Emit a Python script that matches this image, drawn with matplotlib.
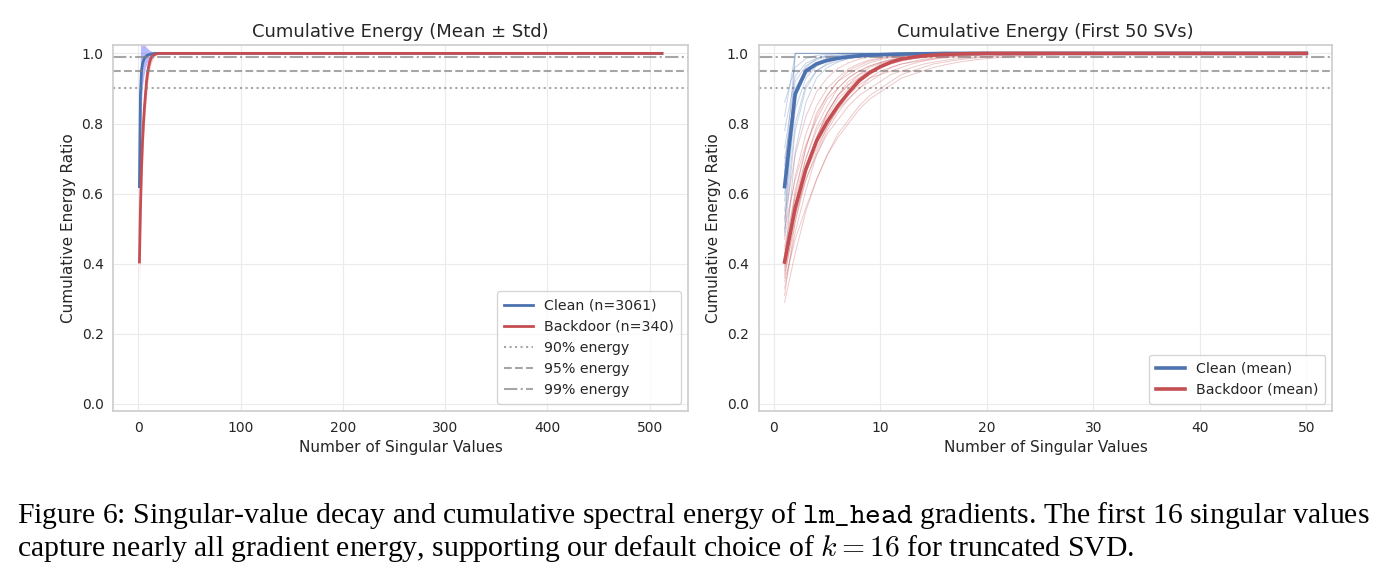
import matplotlib
matplotlib.use("Agg")
import matplotlib.pyplot as plt
import numpy as np

plt.rcParams['font.family'] = ['DejaVu Sans']
plt.rcParams['mathtext.fontset'] = 'cm'

clean_color = '#4C72B0'
back_color = '#C44E52'

# mean cumulative energy for the first singular values (the rest sit at 1.0)
clean_mean = [0.62, 0.885, 0.95, 0.97, 0.98, 0.986, 0.99, 0.993, 0.995, 0.996,
              0.997, 0.998, 0.9985, 0.999, 0.9993, 1.0]
back_mean = [0.405, 0.56, 0.67, 0.75, 0.805, 0.85, 0.888, 0.922, 0.945, 0.962,
             0.975, 0.984, 0.989, 0.993, 0.995, 0.997, 0.998, 0.999, 0.9995, 1.0]
clean_std = [0.15, 0.13, 0.09, 0.065, 0.05, 0.04, 0.03, 0.024, 0.019, 0.015,
             0.012, 0.009, 0.007, 0.005, 0.004, 0.002, 0.0]
back_std = [0.065, 0.08, 0.075, 0.068, 0.06, 0.052, 0.045, 0.038, 0.032, 0.026,
            0.021, 0.017, 0.013, 0.01, 0.008, 0.006, 0.004, 0.003, 0.002, 0.001, 0.0]

n_total = 512
n_first = 50
n_clean = 3061
n_back = 340

# a few individual samples (first 50 SVs)
clean_samples = [
    [0.49, 1.0],
    [0.66, 1.0],
    [0.82, 1.0],
    [0.40, 0.72, 0.86, 0.93, 0.96, 0.975, 0.985, 0.99, 0.994, 0.997, 0.999, 1.0],
    [0.48, 0.78, 0.90, 0.95, 0.972, 0.983, 0.99, 0.994, 0.997, 0.999, 1.0],
    [0.55, 0.84, 0.93, 0.963, 0.978, 0.987, 0.992, 0.995, 0.997, 0.999, 1.0],
    [0.60, 0.87, 0.945, 0.97, 0.982, 0.99, 0.994, 0.997, 0.999, 1.0],
    [0.68, 0.90, 0.955, 0.975, 0.986, 0.992, 0.995, 0.997, 0.999, 1.0],
    [0.73, 0.92, 0.965, 0.982, 0.99, 0.994, 0.997, 0.999, 1.0],
    [0.78, 0.935, 0.972, 0.986, 0.992, 0.996, 0.998, 1.0],
    [0.52, 0.80, 0.91, 0.95, 0.968, 0.978, 0.985, 0.99, 0.993, 0.996, 0.998, 0.999, 1.0],
    [0.70, 0.88, 0.94, 0.965, 0.978, 0.986, 0.991, 0.995, 0.997, 0.999, 1.0],
    [0.86, 0.96, 0.985, 0.994, 0.998, 1.0],
    [0.58, 0.89, 0.96, 0.985, 0.995, 1.0],
]
back_samples = [
    [0.29, 0.43, 0.55, 0.64, 0.71, 0.77, 0.81, 0.85, 0.88, 0.90, 0.92, 0.94, 0.95, 0.96,
     0.97, 0.975, 0.98, 0.984, 0.987, 0.99, 0.992, 0.994, 0.995, 0.996, 0.997, 0.998, 0.999, 1.0],
    [0.33, 0.49, 0.61, 0.71, 0.78, 0.83, 0.87, 0.90, 0.93, 0.94, 0.96, 0.97, 0.975, 0.98,
     0.985, 0.989, 0.992, 0.994, 0.995, 0.997, 0.998, 0.999, 1.0],
    [0.36, 0.54, 0.67, 0.76, 0.83, 0.88, 0.91, 0.94, 0.95, 0.97, 0.976, 0.983, 0.988, 0.991,
     0.994, 0.996, 0.997, 0.998, 0.999, 1.0],
    [0.38, 0.57, 0.70, 0.79, 0.85, 0.90, 0.93, 0.95, 0.964, 0.975, 0.983, 0.988, 0.991, 0.994,
     0.996, 0.997, 0.998, 0.999, 1.0],
    [0.40, 0.56, 0.67, 0.76, 0.82, 0.87, 0.90, 0.93, 0.95, 0.96, 0.97, 0.978, 0.984, 0.988,
     0.991, 0.993, 0.995, 0.997, 0.998, 0.999, 1.0],
    [0.42, 0.61, 0.73, 0.82, 0.88, 0.92, 0.94, 0.96, 0.973, 0.982, 0.988, 0.992, 0.994, 0.996,
     0.997, 0.998, 0.999, 1.0],
    [0.44, 0.56, 0.66, 0.73, 0.79, 0.84, 0.87, 0.90, 0.92, 0.94, 0.95, 0.96, 0.97, 0.978,
     0.983, 0.987, 0.99, 0.992, 0.994, 0.996, 0.997, 0.998, 0.999, 1.0],
    [0.47, 0.65, 0.77, 0.85, 0.90, 0.93, 0.956, 0.971, 0.981, 0.987, 0.992, 0.995, 0.997, 0.998,
     0.999, 1.0],
    [0.50, 0.64, 0.74, 0.81, 0.87, 0.90, 0.93, 0.95, 0.964, 0.974, 0.981, 0.987, 0.99, 0.993,
     0.995, 0.997, 0.998, 0.999, 1.0],
    [0.53, 0.71, 0.82, 0.89, 0.93, 0.957, 0.973, 0.984, 0.99, 0.993, 0.996, 0.998, 0.999, 1.0],
    [0.35, 0.47, 0.56, 0.64, 0.71, 0.76, 0.80, 0.84, 0.87, 0.89, 0.91, 0.93, 0.94, 0.95,
     0.96, 0.967, 0.973, 0.978, 0.982, 0.985, 0.988, 0.99, 0.992, 0.994, 0.995, 0.996, 0.997,
     0.998, 0.999, 1.0],
    [0.31, 0.52, 0.66, 0.76, 0.83, 0.88, 0.92, 0.94, 0.96, 0.972, 0.981, 0.986, 0.99, 0.993,
     0.995, 0.997, 0.998, 0.999, 1.0],
    [0.45, 0.59, 0.70, 0.78, 0.83, 0.88, 0.91, 0.93, 0.95, 0.964, 0.973, 0.98, 0.985, 0.989,
     0.992, 0.994, 0.996, 0.997, 0.998, 0.999, 1.0],
    [0.39, 0.60, 0.73, 0.83, 0.88, 0.92, 0.95, 0.966, 0.978, 0.985, 0.99, 0.994, 0.996, 0.997,
     0.998, 0.999, 1.0],
    [0.43, 0.54, 0.64, 0.71, 0.77, 0.81, 0.85, 0.88, 0.90, 0.92, 0.94, 0.95, 0.96, 0.969,
     0.975, 0.98, 0.984, 0.987, 0.99, 0.992, 0.994, 0.995, 0.996, 0.997, 0.998, 0.999, 1.0],
    [0.37, 0.52, 0.64, 0.72, 0.79, 0.84, 0.88, 0.91, 0.93, 0.95, 0.96, 0.97, 0.977, 0.983,
     0.987, 0.99, 0.993, 0.995, 0.996, 0.997, 0.998, 0.999, 1.0],
]

thresholds = [0.90, 0.95, 0.99]
thr_labels = ['90% energy', '95% energy', '99% energy']
thr_styles = [':', '--', '-.']


def pad(values, n, fill=1.0):
    # curves stay flat once they reach full energy
    return np.array(list(values) + [fill] * (n - len(values)))


def style_axes(ax):
    ax.set_facecolor('white')
    for s in ax.spines.values():
        s.set_color('#cccccc')
        s.set_linewidth(1.2)
    ax.grid(True, color='#ebebeb', linewidth=0.8)
    ax.set_axisbelow(True)
    ax.tick_params(length=0, labelsize=10, colors='#262626', pad=7)


fig = plt.figure(figsize=(13.92, 5.81), dpi=100)
ax1 = fig.add_axes([0.0814, 0.2926, 0.4129, 0.630])
ax2 = fig.add_axes([0.5449, 0.2926, 0.4123, 0.630])

# ---- left: mean +/- std over all singular values
k_all = np.arange(1, n_total + 1)
cm_all = pad(clean_mean, n_total)
bm_all = pad(back_mean, n_total)
cs_all = pad(clean_std, n_total, 0.0)
bs_all = pad(back_std, n_total, 0.0)

ax1.plot(k_all, cm_all, color=clean_color, lw=2, label=f'Clean (n={n_clean})')
ax1.fill_between(k_all, cm_all - cs_all, cm_all + cs_all, color='blue', alpha=0.28, lw=0)
ax1.plot(k_all, bm_all, color=back_color, lw=2, label=f'Backdoor (n={n_back})')
ax1.fill_between(k_all, bm_all - bs_all, bm_all + bs_all, color='red', alpha=0.22, lw=0)
for t, lab, ls in zip(thresholds, thr_labels, thr_styles):
    ax1.axhline(t, color='gray', ls=ls, lw=1.5, alpha=0.7, label=lab)

ax1.set_ylim(-0.02, 1.024)
ax1.set_xticks([0, 100, 200, 300, 400, 500])
ax1.set_yticks([0.0, 0.2, 0.4, 0.6, 0.8, 1.0])
ax1.set_xlabel('Number of Singular Values', fontsize=11, color='#262626')
ax1.set_ylabel('Cumulative Energy Ratio', fontsize=11, color='#262626')
ax1.set_title('Cumulative Energy (Mean ± Std)', fontsize=13, color='#262626')
style_axes(ax1)
ax1.legend(loc='lower right', fontsize=10.2, frameon=True, framealpha=0.8,
           edgecolor='#cccccc', borderpad=0.5, labelcolor='#262626')

# ---- right: first 50 singular values with individual samples
k50 = np.arange(1, n_first + 1)
for t, ls in zip(thresholds, thr_styles):
    ax2.axhline(t, color='gray', ls=ls, lw=1.5, alpha=0.7)
for s in clean_samples:
    ax2.plot(k50, pad(s, n_first), color=clean_color, lw=0.7, alpha=0.3)
for s in back_samples:
    ax2.plot(k50, pad(s, n_first), color=back_color, lw=0.7, alpha=0.3)
ax2.plot(k50, pad(clean_mean, n_first), color=clean_color, lw=2.6, label='Clean (mean)')
ax2.plot(k50, pad(back_mean, n_first), color=back_color, lw=2.6, label='Backdoor (mean)')

ax2.set_ylim(-0.02, 1.024)
ax2.set_xticks([0, 10, 20, 30, 40, 50])
ax2.set_yticks([0.0, 0.2, 0.4, 0.6, 0.8, 1.0])
ax2.set_xlabel('Number of Singular Values', fontsize=11, color='#262626')
ax2.set_ylabel('Cumulative Energy Ratio', fontsize=11, color='#262626')
ax2.set_title('Cumulative Energy (First 50 SVs)', fontsize=13, color='#262626')
style_axes(ax2)
ax2.legend(loc='lower right', fontsize=10.2, frameon=True, framealpha=0.8,
           edgecolor='#cccccc', borderpad=0.5, labelcolor='#262626')

# ---- caption
cap1 = (r"Figure 6: Singular-value decay and cumulative spectral energy of "
        r"$\mathtt{lm\_head}$ gradients. The first 16 singular values")
cap2 = (r"capture nearly all gradient energy, supporting our default choice of "
        r"$k=16$ for truncated SVD.")
fig.text(0.0122, 1 - 523 / 581, cap1, fontfamily='Liberation Serif', fontsize=21.4,
         va='baseline', ha='left', color='black')
fig.text(0.0122, 1 - 556 / 581, cap2, fontfamily='Liberation Serif', fontsize=21.4,
         va='baseline', ha='left', color='black')

fig.savefig('out.png', dpi=100, facecolor='white')
